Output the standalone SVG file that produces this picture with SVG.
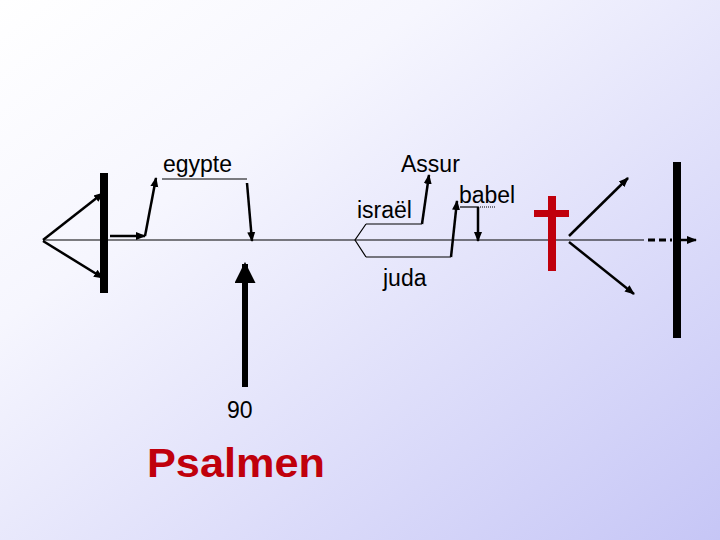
<svg xmlns="http://www.w3.org/2000/svg" width="720" height="540" viewBox="0 0 720 540">
<defs>
<linearGradient id="bg" x1="0" y1="0" x2="1" y2="1">
<stop offset="0" stop-color="#ffffff"/>
<stop offset="0.3" stop-color="#f6f6fe"/>
<stop offset="1" stop-color="#c6c6f6"/>
</linearGradient>
<marker id="ah" viewBox="0 0 10 10" refX="9" refY="5" markerWidth="4" markerHeight="4" markerUnits="strokeWidth" orient="auto">
<path d="M0,1 L10,5 L0,9 z" fill="#000"/>
</marker>
<marker id="bigah" viewBox="0 0 10 10" refX="9" refY="5" markerWidth="3.5" markerHeight="3.5" markerUnits="strokeWidth" orient="auto">
<path d="M0,0 L10,5 L0,10 z" fill="#000"/>
</marker>
</defs>
<style>
.t{font-family:"Liberation Sans",Arial,sans-serif;font-size:23px;fill:#000}
.a{fill:none;stroke:#000;stroke-width:2.5;marker-end:url(#ah)}
.l{fill:none;stroke:#000;stroke-width:1.2}
.bar{fill:#000}
.red{fill:#c0000c}
</style>
<rect width="720" height="540" fill="url(#bg)"/>
<g id="connectors">
<line class="l" x1="43" y1="240" x2="644" y2="240"/>
<line x1="648" y1="240" x2="672" y2="240" stroke="#000" stroke-width="3" stroke-dasharray="7,4"/>
<line class="a" x1="680" y1="240" x2="696" y2="240" stroke-width="2"/>
<polyline class="a" points="43,240 103,193"/>
<polyline class="a" points="43,241 103,278"/>
<line class="a" x1="110" y1="236" x2="145" y2="236"/>
<line class="a" x1="145" y1="236" x2="156" y2="178"/>
<line class="l" x1="162" y1="179" x2="247" y2="179"/>
<line class="a" x1="247" y1="183" x2="252" y2="241"/>
<line x1="245" y1="387" x2="245" y2="264" stroke="#000" stroke-width="6" marker-end="url(#bigah)"/>
<polyline class="l" points="366,224 355,240 366,257"/>
<polyline class="l" points="366,224 422,224"/>
<line class="a" x1="422" y1="224" x2="429" y2="175"/>
<polyline class="l" points="366,257 451,257"/>
<line class="a" x1="451" y1="257" x2="457" y2="201"/>
<polyline class="l" points="460,207 478,207"/>
<line x1="478" y1="207" x2="495" y2="207" stroke="#000" stroke-width="1" stroke-dasharray="1,1"/>
<line class="a" x1="478" y1="207" x2="478" y2="241"/>
<line class="a" x1="569" y1="236" x2="628" y2="178"/>
<line class="a" x1="569" y1="242" x2="634" y2="294"/>
</g>
<g id="bar-left"><rect class="bar" x="100" y="173" width="8" height="120"/></g>
<g id="bar-right"><rect class="bar" x="673" y="162" width="8" height="176"/></g>
<g id="cross">
<rect class="red" x="548" y="196" width="8" height="75"/>
<rect class="red" x="534" y="210" width="35" height="7"/>
</g>
<g id="egypte"><text class="t" x="163" y="172">egypte</text></g>
<g id="assur"><text class="t" x="401" y="172" font-size="24">Assur</text></g>
<g id="israel"><text class="t" x="357" y="218">israël</text></g>
<g id="babel"><text class="t" x="459" y="203" textLength="56">babel</text></g>
<g id="juda"><text class="t" x="383" y="286">juda</text></g>
<g id="n90"><text class="t" x="227" y="418" font-size="26">90</text></g>
<g id="psalmen"><text x="147" y="477" font-family="Liberation Sans,Arial,sans-serif" font-size="41" font-weight="bold" fill="#c0000c" textLength="178" lengthAdjust="spacingAndGlyphs">Psalmen</text></g>
</svg>
